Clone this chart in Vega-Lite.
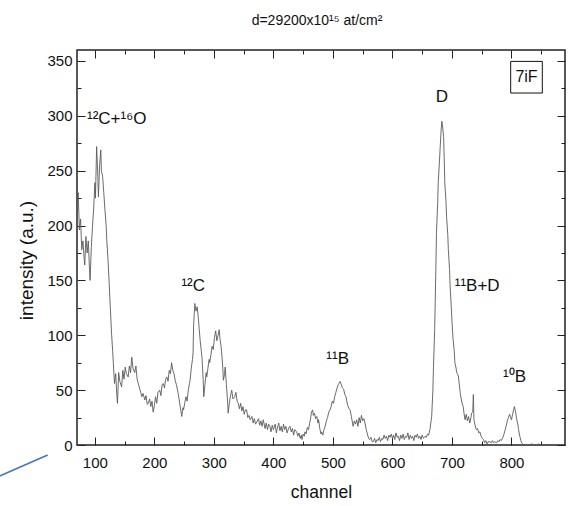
{
  "$schema": "https://vega.github.io/schema/vega-lite/v6.json",
  "width": 488,
  "height": 395,
  "autosize": "none",
  "padding": {"left": 77, "top": 50, "right": 11, "bottom": 61},
  "background": "white",
  "title": {"text": "d=29200x10¹⁵ at/cm²", "fontSize": 14, "fontWeight": "normal", "font": "Liberation Sans", "color": "#111", "anchor": "middle", "frame": "group", "offset": 22, "dx": -4},
  "datasets": {
    "spectrum": [
      {"channel":70,"value":215},{"channel":72,"value":230},{"channel":74,"value":196},{"channel":76,"value":206},{"channel":78,"value":178},{"channel":80,"value":186},{"channel":82,"value":170},{"channel":83,"value":164},{"channel":85,"value":190},{"channel":87,"value":175},{"channel":89,"value":186},{"channel":91,"value":160},{"channel":92,"value":150},{"channel":94,"value":180},{"channel":96,"value":199},{"channel":98,"value":215},{"channel":100,"value":239},{"channel":101,"value":225},{"channel":103,"value":272},{"channel":105,"value":245},{"channel":106,"value":226},{"channel":108,"value":255},{"channel":110,"value":269},{"channel":111,"value":250},{"channel":113,"value":245},{"channel":115,"value":230},{"channel":117,"value":214},{"channel":119,"value":200},{"channel":120,"value":187},{"channel":122,"value":170},{"channel":124,"value":148},{"channel":126,"value":125},{"channel":128,"value":102},{"channel":130,"value":85},{"channel":131,"value":75},{"channel":133,"value":56},{"channel":135,"value":65},{"channel":137,"value":45},{"channel":138,"value":38},{"channel":140,"value":66},{"channel":142,"value":58},{"channel":145,"value":53},{"channel":147,"value":68},{"channel":149,"value":60},{"channel":151,"value":71},{"channel":153,"value":65},{"channel":156,"value":62},{"channel":158,"value":72},{"channel":160,"value":66},{"channel":162,"value":80},{"channel":164,"value":70},{"channel":167,"value":66},{"channel":169,"value":72},{"channel":171,"value":60},{"channel":173,"value":56},{"channel":175,"value":52},{"channel":177,"value":48},{"channel":179,"value":44},{"channel":181,"value":47},{"channel":184,"value":41},{"channel":186,"value":45},{"channel":188,"value":37},{"channel":190,"value":38},{"channel":192,"value":42},{"channel":194,"value":35},{"channel":196,"value":40},{"channel":198,"value":30},{"channel":200,"value":36},{"channel":202,"value":44},{"channel":204,"value":38},{"channel":206,"value":48},{"channel":209,"value":50},{"channel":211,"value":45},{"channel":213,"value":55},{"channel":215,"value":56},{"channel":217,"value":52},{"channel":219,"value":60},{"channel":221,"value":62},{"channel":223,"value":58},{"channel":225,"value":68},{"channel":227,"value":65},{"channel":229,"value":75},{"channel":231,"value":68},{"channel":233,"value":65},{"channel":235,"value":59},{"channel":237,"value":55},{"channel":239,"value":50},{"channel":240,"value":47},{"channel":242,"value":40},{"channel":244,"value":33},{"channel":246,"value":26},{"channel":248,"value":34},{"channel":249,"value":32},{"channel":251,"value":38},{"channel":253,"value":44},{"channel":255,"value":40},{"channel":257,"value":50},{"channel":259,"value":56},{"channel":260,"value":59},{"channel":262,"value":70},{"channel":264,"value":78},{"channel":265,"value":84},{"channel":266,"value":110},{"channel":268,"value":129},{"channel":270,"value":122},{"channel":272,"value":126},{"channel":274,"value":115},{"channel":275,"value":108},{"channel":277,"value":95},{"channel":279,"value":85},{"channel":280,"value":80},{"channel":282,"value":60},{"channel":283,"value":44},{"channel":285,"value":55},{"channel":287,"value":66},{"channel":288,"value":62},{"channel":290,"value":70},{"channel":292,"value":78},{"channel":293,"value":75},{"channel":295,"value":82},{"channel":297,"value":90},{"channel":299,"value":87},{"channel":301,"value":98},{"channel":303,"value":104},{"channel":305,"value":95},{"channel":307,"value":100},{"channel":309,"value":105},{"channel":310,"value":98},{"channel":312,"value":90},{"channel":313,"value":85},{"channel":315,"value":70},{"channel":316,"value":59},{"channel":318,"value":65},{"channel":319,"value":71},{"channel":321,"value":55},{"channel":323,"value":40},{"channel":324,"value":29},{"channel":326,"value":38},{"channel":328,"value":45},{"channel":330,"value":50},{"channel":332,"value":42},{"channel":335,"value":44},{"channel":337,"value":48},{"channel":339,"value":40},{"channel":341,"value":38},{"channel":343,"value":33},{"channel":345,"value":38},{"channel":347,"value":31},{"channel":349,"value":35},{"channel":351,"value":28},{"channel":353,"value":32},{"channel":355,"value":32},{"channel":357,"value":25},{"channel":359,"value":27},{"channel":361,"value":23},{"channel":364,"value":26},{"channel":366,"value":20},{"channel":368,"value":24},{"channel":370,"value":19},{"channel":372,"value":21},{"channel":375,"value":24},{"channel":377,"value":18},{"channel":379,"value":22},{"channel":381,"value":17},{"channel":383,"value":23},{"channel":386,"value":15},{"channel":388,"value":20},{"channel":390,"value":14},{"channel":392,"value":19},{"channel":394,"value":17},{"channel":396,"value":12},{"channel":398,"value":18},{"channel":400,"value":14},{"channel":403,"value":19},{"channel":405,"value":11},{"channel":406,"value":14},{"channel":409,"value":20},{"channel":411,"value":13},{"channel":413,"value":17},{"channel":415,"value":12},{"channel":417,"value":19},{"channel":419,"value":14},{"channel":421,"value":17},{"channel":423,"value":11},{"channel":426,"value":16},{"channel":428,"value":17},{"channel":430,"value":12},{"channel":432,"value":15},{"channel":434,"value":9},{"channel":436,"value":14},{"channel":439,"value":12},{"channel":441,"value":8},{"channel":443,"value":11},{"channel":445,"value":6},{"channel":447,"value":9},{"channel":448,"value":5},{"channel":450,"value":10},{"channel":452,"value":8},{"channel":453,"value":12},{"channel":455,"value":10},{"channel":457,"value":16},{"channel":459,"value":14},{"channel":461,"value":20},{"channel":463,"value":26},{"channel":464,"value":30},{"channel":466,"value":32},{"channel":467,"value":27},{"channel":469,"value":29},{"channel":471,"value":24},{"channel":473,"value":26},{"channel":475,"value":20},{"channel":476,"value":23},{"channel":478,"value":15},{"channel":480,"value":10},{"channel":481,"value":12},{"channel":483,"value":9},{"channel":485,"value":14},{"channel":487,"value":17},{"channel":489,"value":22},{"channel":491,"value":25},{"channel":493,"value":30},{"channel":495,"value":32},{"channel":497,"value":35},{"channel":499,"value":40},{"channel":501,"value":38},{"channel":503,"value":44},{"channel":505,"value":48},{"channel":507,"value":52},{"channel":509,"value":55},{"channel":511,"value":57},{"channel":512,"value":58},{"channel":514,"value":55},{"channel":516,"value":52},{"channel":518,"value":51},{"channel":520,"value":46},{"channel":522,"value":44},{"channel":523,"value":41},{"channel":525,"value":36},{"channel":527,"value":33},{"channel":529,"value":32},{"channel":531,"value":26},{"channel":533,"value":20},{"channel":534,"value":17},{"channel":536,"value":22},{"channel":538,"value":19},{"channel":540,"value":23},{"channel":542,"value":17},{"channel":544,"value":25},{"channel":546,"value":20},{"channel":548,"value":27},{"channel":550,"value":22},{"channel":552,"value":24},{"channel":554,"value":20},{"channel":556,"value":14},{"channel":558,"value":10},{"channel":560,"value":6},{"channel":562,"value":5},{"channel":564,"value":7},{"channel":566,"value":3},{"channel":568,"value":3},{"channel":570,"value":6},{"channel":572,"value":2},{"channel":574,"value":5},{"channel":576,"value":4},{"channel":578,"value":7},{"channel":580,"value":3},{"channel":582,"value":6},{"channel":584,"value":5},{"channel":586,"value":9},{"channel":588,"value":6},{"channel":590,"value":8},{"channel":592,"value":4},{"channel":594,"value":9},{"channel":596,"value":7},{"channel":598,"value":10},{"channel":600,"value":6},{"channel":602,"value":9},{"channel":604,"value":5},{"channel":606,"value":11},{"channel":608,"value":7},{"channel":610,"value":8},{"channel":612,"value":4},{"channel":614,"value":9},{"channel":616,"value":6},{"channel":618,"value":10},{"channel":620,"value":5},{"channel":622,"value":8},{"channel":624,"value":7},{"channel":626,"value":11},{"channel":628,"value":5},{"channel":630,"value":9},{"channel":632,"value":6},{"channel":634,"value":8},{"channel":636,"value":4},{"channel":638,"value":9},{"channel":640,"value":7},{"channel":642,"value":10},{"channel":644,"value":6},{"channel":646,"value":8},{"channel":648,"value":5},{"channel":650,"value":9},{"channel":652,"value":6},{"channel":655,"value":8},{"channel":657,"value":7},{"channel":659,"value":10},{"channel":661,"value":9},{"channel":663,"value":14},{"channel":665,"value":22},{"channel":666,"value":26},{"channel":668,"value":50},{"channel":669,"value":71},{"channel":671,"value":105},{"channel":672,"value":132},{"channel":673,"value":160},{"channel":674,"value":193},{"channel":676,"value":220},{"channel":677,"value":239},{"channel":679,"value":258},{"channel":680,"value":269},{"channel":682,"value":288},{"channel":683,"value":295},{"channel":684,"value":292},{"channel":686,"value":281},{"channel":687,"value":262},{"channel":688,"value":239},{"channel":690,"value":222},{"channel":691,"value":208},{"channel":693,"value":192},{"channel":694,"value":178},{"channel":696,"value":160},{"channel":697,"value":144},{"channel":699,"value":125},{"channel":700,"value":114},{"channel":701,"value":104},{"channel":702,"value":96},{"channel":704,"value":85},{"channel":705,"value":75},{"channel":707,"value":70},{"channel":708,"value":66},{"channel":710,"value":64},{"channel":711,"value":62},{"channel":713,"value":52},{"channel":714,"value":47},{"channel":716,"value":41},{"channel":717,"value":38},{"channel":719,"value":35},{"channel":720,"value":30},{"channel":722,"value":23},{"channel":724,"value":28},{"channel":726,"value":22},{"channel":728,"value":26},{"channel":730,"value":20},{"channel":732,"value":25},{"channel":733,"value":29},{"channel":735,"value":30},{"channel":736,"value":46},{"channel":737,"value":23},{"channel":739,"value":18},{"channel":741,"value":14},{"channel":743,"value":15},{"channel":745,"value":11},{"channel":747,"value":12},{"channel":749,"value":8},{"channel":751,"value":6},{"channel":753,"value":5},{"channel":755,"value":2},{"channel":757,"value":4},{"channel":759,"value":1},{"channel":761,"value":3},{"channel":764,"value":3},{"channel":766,"value":2},{"channel":768,"value":4},{"channel":770,"value":2},{"channel":772,"value":3},{"channel":775,"value":2},{"channel":777,"value":4},{"channel":779,"value":3},{"channel":781,"value":5},{"channel":783,"value":4},{"channel":785,"value":6},{"channel":787,"value":9},{"channel":789,"value":13},{"channel":791,"value":17},{"channel":793,"value":22},{"channel":795,"value":25},{"channel":797,"value":28},{"channel":798,"value":26},{"channel":800,"value":23},{"channel":802,"value":28},{"channel":804,"value":33},{"channel":805,"value":35},{"channel":807,"value":30},{"channel":809,"value":23},{"channel":811,"value":18},{"channel":812,"value":14},{"channel":814,"value":8},{"channel":816,"value":4},{"channel":817,"value":2},{"channel":819,"value":1},{"channel":822,"value":0},{"channel":826,"value":0},{"channel":830,"value":0},{"channel":834,"value":1},{"channel":838,"value":0},{"channel":842,"value":0},{"channel":845,"value":1},{"channel":848,"value":0},{"channel":852,"value":0},{"channel":855,"value":0}
    ],
    "annotations": [
      {"channel": 86.8, "value": 297, "label": "¹²C+¹⁶O"},
      {"channel": 245.5, "value": 145, "label": "¹²C"},
      {"channel": 489, "value": 78, "label": "¹¹B"},
      {"channel": 672.7, "value": 317, "label": "D"},
      {"channel": 704.8, "value": 145, "label": "¹¹B+D"},
      {"channel": 786, "value": 62, "label": "¹⁰B"}
    ],
    "box": [{"channel": 825.3, "value": 335.2, "label": "7iF"}],
    "stray": [{"channel": -59.9, "value": -28.3}, {"channel": 20.8, "value": -9.1}]
  },
  "layer": [
    {
      "data": {"name": "spectrum"},
      "mark": {"type": "line", "color": "#5a5a5a", "strokeWidth": 0.9},
      "encoding": {
        "x": {"field": "channel", "type": "quantitative", "scale": {"domain": [70, 890], "nice": false, "zero": false},
              "axis": {"orient": "bottom", "values": [100, 200, 300, 400, 500, 600, 700, 800], "tickSize": -8, "labelPadding": 18, "labelFlush": false, "labelOverlap": false, "title": "channel", "titleY": 47, "titleBaseline": "middle", "titleFontSize": 17.5}},
        "y": {"field": "value", "type": "quantitative", "scale": {"domain": [0, 360], "nice": false, "zero": false},
              "axis": {"orient": "left", "values": [0, 50, 100, 150, 200, 250, 300, 350], "tickSize": -8, "labelPadding": 13, "labelFlush": false, "labelOverlap": false, "title": "intensity (a.u.)", "titleX": -51, "titleY": 210, "titleBaseline": "middle", "titleAngle": 270, "titleFontSize": 19}}
      }
    },
    {
      "data": {"name": "annotations"},
      "mark": {"type": "text", "align": "left", "baseline": "middle", "fontSize": 17, "font": "Liberation Sans", "color": "#111"},
      "encoding": {
        "x": {"field": "channel", "type": "quantitative", "scale": {"domain": [70, 890], "nice": false, "zero": false},
              "axis": {"orient": "bottom", "values": [150, 250, 350, 450, 550, 650, 750, 850], "tickSize": -4, "labels": false, "title": null}},
        "y": {"field": "value", "type": "quantitative", "scale": {"domain": [0, 360], "nice": false, "zero": false},
              "axis": {"orient": "left", "values": [25, 75, 125, 175, 225, 275, 325], "tickSize": -4, "labels": false, "title": null}},
        "text": {"field": "label", "type": "nominal"}
      }
    },
    {
      "data": {"name": "box"},
      "mark": {"type": "point", "shape": "square", "size": 1000, "filled": false, "stroke": "#111", "strokeWidth": 1, "opacity": 1},
      "encoding": {
        "x": {"field": "channel", "type": "quantitative", "scale": {"domain": [70, 890], "nice": false, "zero": false},
              "axis": {"orient": "top", "values": [100, 200, 300, 400, 500, 600, 700, 800], "tickSize": -8, "labels": false, "title": null}},
        "y": {"field": "value", "type": "quantitative", "scale": {"domain": [0, 360], "nice": false, "zero": false},
              "axis": {"orient": "right", "values": [0, 50, 100, 150, 200, 250, 300, 350], "tickSize": -8, "labels": false, "title": null}}
      }
    },
    {
      "data": {"name": "box"},
      "mark": {"type": "text", "align": "center", "baseline": "middle", "fontSize": 16, "font": "Liberation Sans", "color": "#111"},
      "encoding": {
        "x": {"field": "channel", "type": "quantitative", "scale": {"domain": [70, 890], "nice": false, "zero": false},
              "axis": {"orient": "top", "values": [150, 250, 350, 450, 550, 650, 750, 850], "tickSize": -4, "labels": false, "title": null}},
        "y": {"field": "value", "type": "quantitative", "scale": {"domain": [0, 360], "nice": false, "zero": false},
              "axis": {"orient": "right", "values": [25, 75, 125, 175, 225, 275, 325], "tickSize": -4, "labels": false, "title": null}},
        "text": {"field": "label", "type": "nominal"}
      }
    },
    {
      "data": {"name": "stray"},
      "mark": {"type": "line", "color": "#4472C4", "strokeWidth": 1.5, "clip": false},
      "encoding": {
        "x": {"field": "channel", "type": "quantitative", "scale": {"domain": [70, 890], "nice": false, "zero": false}, "axis": null},
        "y": {"field": "value", "type": "quantitative", "scale": {"domain": [0, 360], "nice": false, "zero": false}, "axis": null}
      }
    }
  ],
  "resolve": {"axis": {"x": "independent", "y": "independent"}},
  "config": {
    "font": "Liberation Sans",
    "view": {"stroke": "#222", "strokeWidth": 1.5},
    "axis": {"grid": false, "domain": false, "tickColor": "#222", "tickWidth": 1, "labelFont": "Liberation Sans", "labelFontSize": 15, "labelColor": "#111", "titleFont": "Liberation Sans", "titleFontWeight": "normal", "titleColor": "#111"}
  }
}
